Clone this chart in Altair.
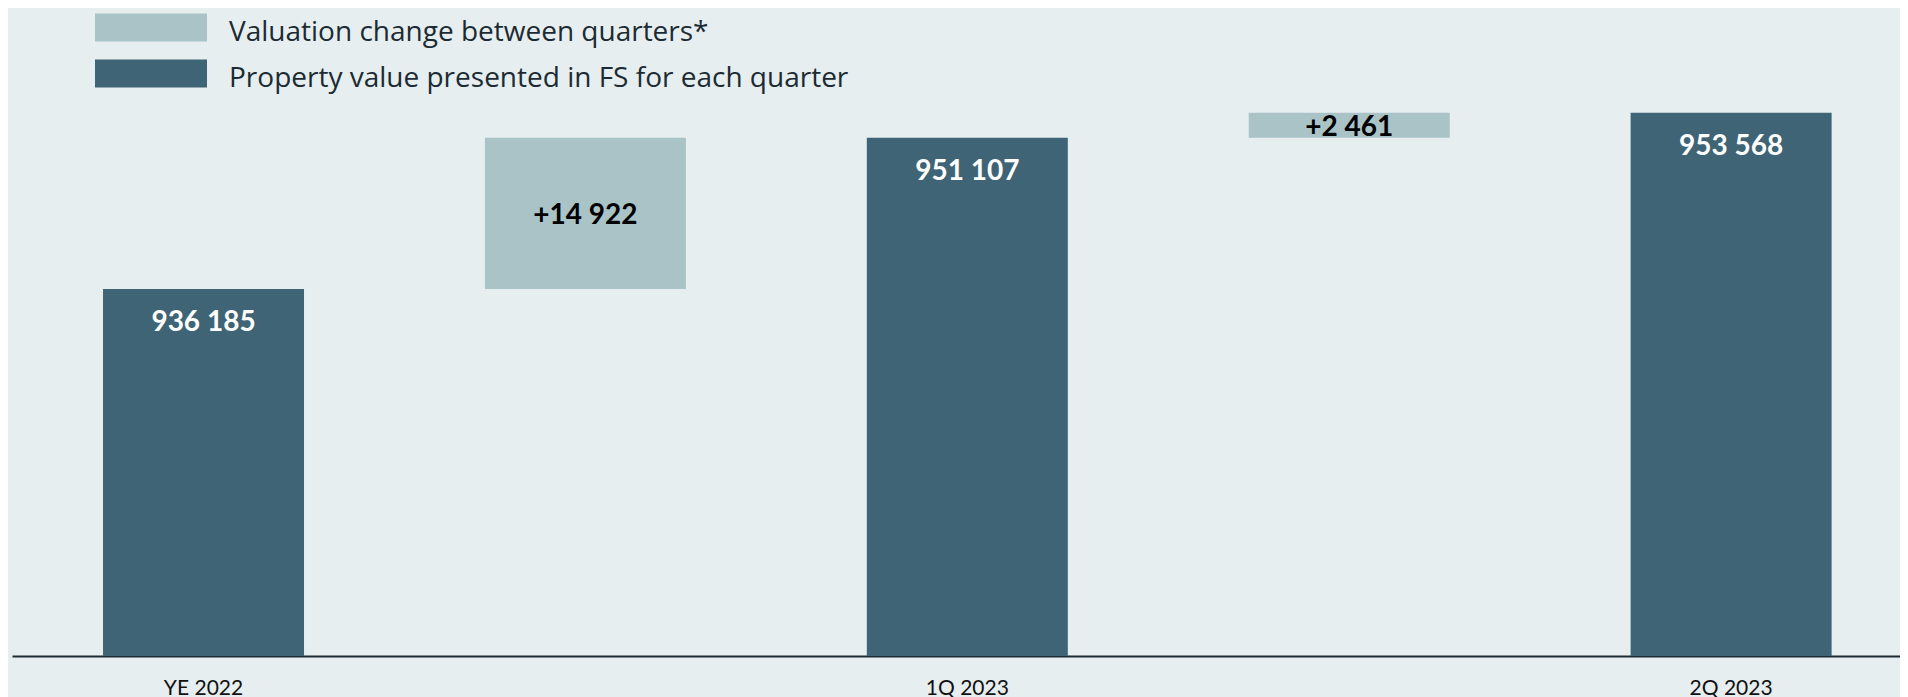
import altair as alt
import pandas as pd

# ---- data ----
quarters = ["YE 2022", "1Q 2023", "2Q 2023"]
values = [936185, 951107, 953568]
change_slots = ["chg 1", "chg 2"]          # hidden x slots between quarters
changes = [14922, 2461]

LEG_CHANGE = "Valuation change between quarters*"
LEG_TOTAL = "Property value presented in FS for each quarter"

Y_MIN = 900000
Y_MAX = 963900

DARK = "#3E6475"
LIGHT = "#AAC3C7"
BG = "#E6EEF0"


def fmt(v):
    return f"{v:,}".replace(",", " ")


order = []
rows = []
for i, q in enumerate(quarters):
    order.append(q)
    rows.append(dict(key=q, lo=Y_MIN, hi=values[i], series=LEG_TOTAL,
                     label=fmt(values[i]), kind="total"))
    if i < len(changes):
        order.append(change_slots[i])
        rows.append(dict(key=change_slots[i], lo=values[i], hi=values[i] + changes[i],
                         series=LEG_CHANGE, label="+" + fmt(changes[i]), kind="change"))
df = pd.DataFrame(rows)

x_enc = alt.X(
    "key:N",
    sort=order,
    scale=alt.Scale(paddingInner=0.4737, paddingOuter=0.2087, align=0.571),
    axis=alt.Axis(
        values=quarters, title=None, labelAngle=0, ticks=False,
        domainColor="#1E2B30", domainWidth=2,
        labelFont="Lato", labelFontSize=21, labelColor="#111111",
        labelBaseline="alphabetic", labelPadding=38,
    ),
)
y_scale = alt.Scale(domain=[Y_MIN, Y_MAX], nice=False, zero=False)

base = alt.Chart(df)

bars = base.mark_bar(cornerRadius=0).encode(
    x=x_enc,
    y=alt.Y("hi:Q", scale=y_scale, axis=None),
    y2="lo:Q",
    color=alt.Color(
        "series:N",
        scale=alt.Scale(domain=[LEG_CHANGE, LEG_TOTAL], range=[LIGHT, DARK]),
        legend=alt.Legend(
            title=None, orient="none", legendX=125, legendY=11.3,
            symbolType="M-4,-1.414H4V0.586H-4Z", symbolSize=784,
            symbolStrokeWidth=0, symbolOpacity=1,
            labelFont="Open Sans", labelFontSize=28, labelColor="#1C2B33",
            labelOffset=64, labelBaseline="middle", rowPadding=12,
            padding=0, labelLimit=1000,
        ),
    ),
)

total_text = base.transform_filter(alt.datum.kind == "total").mark_text(
    font="Lato", fontSize=28, fontWeight="bold", color="white",
    baseline="alphabetic", dy=42,
).encode(
    x=alt.X("key:N", sort=order),
    y=alt.Y("hi:Q", scale=y_scale),
    text="label:N",
)

change_text = base.transform_filter(alt.datum.kind == "change").transform_calculate(
    mid="(datum.lo + datum.hi) / 2"
).mark_text(
    font="Lato", fontSize=28, fontWeight="bold", color="black",
    baseline="alphabetic", dy=10.5,
).encode(
    x=alt.X("key:N", sort=order),
    y=alt.Y("mid:Q", scale=y_scale),
    text="label:N",
)

chart = (
    alt.layer(bars, total_text, change_text)
    .properties(width=1888, height=648, background=BG,
                padding={"left": 4, "top": 0, "right": 0, "bottom": 0})
    .configure_view(stroke=None)
)

chart.save("out.html", embed_options={"renderer": "svg", "actions": False})
